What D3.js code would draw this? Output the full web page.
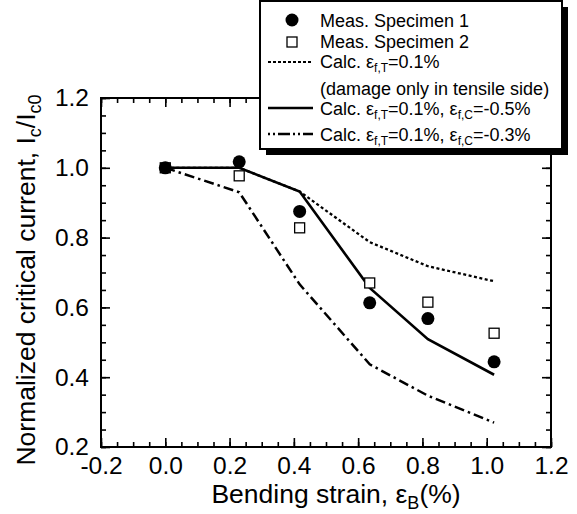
<!DOCTYPE html>
<html><head><meta charset="utf-8">
<script src="https://cdn.jsdelivr.net/npm/d3@7"></script>
<style>body{margin:0;background:#fff} text{font-family:"Liberation Sans",Arial,sans-serif;fill:#000}</style>
</head><body><svg id="c" width="577" height="514"></svg>
<script>
const strain = [0, 0.23, 0.418, 0.636, 0.817, 1.023];
const spec1 = [1.0, 1.017, 0.875, 0.613, 0.568, 0.444];
const spec2 = [1.0, 0.977, 0.828, 0.670, 0.615, 0.526];
const calcTensile = [1.0, 1.0, 0.932, 0.787, 0.718, 0.675];
const calcC05 = [1.0, 1.0, 0.932, 0.656, 0.509, 0.407];
const calcC03 = [1.0, 0.93, 0.666, 0.437, 0.347, 0.27];
const xTicks = [-0.2, 0.0, 0.2, 0.4, 0.6, 0.8, 1.0, 1.2];
const yTicks = [0.2, 0.4, 0.6, 0.8, 1.0, 1.2];
const xMinor = d3.range(-0.2, 1.2001, 0.05);
const yMinor = d3.range(0.2, 1.2001, 0.05);

const svg = d3.select("#c");
const L = 101, R = 551, T = 98, B = 447;
const x = d3.scaleLinear().domain([-0.2, 1.2]).range([L, R]);
const y = d3.scaleLinear().domain([0.2, 1.2]).range([B, T]);

function axisGroup(axis, tr){ return svg.append("g").attr("transform", tr).call(axis); }
const fmt = d => d3.format(".1f")(d).replace("−", "-");
const ax = [
  axisGroup(d3.axisBottom(x).tickValues(xMinor).tickSize(-5).tickFormat(""), `translate(0,${B})`),
  axisGroup(d3.axisTop(x).tickValues(xMinor).tickSize(-5).tickFormat(""), `translate(0,${T})`),
  axisGroup(d3.axisLeft(y).tickValues(yMinor).tickSize(-5).tickFormat(""), `translate(${L},0)`),
  axisGroup(d3.axisRight(y).tickValues(yMinor).tickSize(-5).tickFormat(""), `translate(${R},0)`),
  axisGroup(d3.axisBottom(x).tickValues(xTicks).tickSize(-9).tickPadding(10).tickFormat(fmt), `translate(0,${B})`),
  axisGroup(d3.axisTop(x).tickValues(xTicks).tickSize(-9).tickFormat(""), `translate(0,${T})`),
  axisGroup(d3.axisLeft(y).tickValues(yTicks).tickSize(-9).tickPadding(12).tickFormat(fmt), `translate(${L},0)`),
  axisGroup(d3.axisRight(y).tickValues(yTicks).tickSize(-9).tickFormat(""), `translate(${R},0)`)
];
ax.forEach(g => {
  g.select(".domain").remove();
  g.selectAll(".tick line").attr("stroke", "#000").attr("stroke-width", 1.6);
  g.selectAll(".tick text").attr("font-size", 24.5).attr("font-family", "Liberation Sans, Arial, sans-serif").attr("fill", "#000");
});
svg.append("rect").attr("x", L).attr("y", T).attr("width", R - L).attr("height", B - T)
  .attr("fill", "none").attr("stroke", "#000").attr("stroke-width", 2);

// lines
const line = d3.line().x((d, i) => x(strain[i])).y(d => y(d));
svg.append("path").datum(calcTensile).attr("d", line).attr("fill", "none").attr("stroke", "#000")
  .attr("stroke-width", 2.3).attr("stroke-dasharray", "3,2.5");
svg.append("path").datum(calcC03).attr("d", line).attr("fill", "none").attr("stroke", "#000")
  .attr("stroke-width", 2.5).attr("stroke-dasharray", "10,4,2.5,4");
svg.append("path").datum(calcC05).attr("d", line).attr("fill", "none").attr("stroke", "#000")
  .attr("stroke-width", 2.6);

// points
svg.selectAll(".sq").data(spec2).enter().append("rect")
  .attr("x", (d, i) => x(strain[i]) - 5).attr("y", d => y(d) - 5)
  .attr("width", 10).attr("height", 10).attr("fill", "#fff").attr("stroke", "#000").attr("stroke-width", 1.3);
svg.selectAll(".ci").data(spec1).enter().append("circle")
  .attr("cx", (d, i) => x(strain[i])).attr("cy", d => y(d)).attr("r", 6.5).attr("fill", "#000");

// axis titles
svg.append("text").attr("x", 336).attr("y", 503).attr("text-anchor", "middle").attr("font-size", 26.5)
  .html('Bending strain, ε<tspan font-size="18" dy="6">B</tspan><tspan dy="-6">(%)</tspan>');
svg.append("text").attr("transform", "translate(35,280) rotate(-90)").attr("text-anchor", "middle").attr("font-size", 26.5)
  .html('Normalized critical current, I<tspan font-size="18" dy="6">c</tspan><tspan dy="-6">/I</tspan><tspan font-size="18" dy="6">c0</tspan>');

// legend
const lg = svg.append("g");
lg.append("rect").attr("x", 266).attr("y", 7).attr("width", 302).attr("height", 148).attr("fill", "#000");
lg.append("rect").attr("x", 260).attr("y", 1).attr("width", 302).attr("height", 148).attr("fill", "#fff")
  .attr("stroke", "#000").attr("stroke-width", 2);
lg.append("circle").attr("cx", 292).attr("cy", 20).attr("r", 6.5).attr("fill", "#000");
lg.append("rect").attr("x", 287).attr("y", 37).attr("width", 10).attr("height", 10).attr("fill", "#fff").attr("stroke", "#000").attr("stroke-width", 1.3);
lg.append("line").attr("x1", 268).attr("x2", 313).attr("y1", 62).attr("y2", 62).attr("stroke", "#000").attr("stroke-width", 2).attr("stroke-dasharray", "3,2");
lg.append("line").attr("x1", 268).attr("x2", 313).attr("y1", 108).attr("y2", 108).attr("stroke", "#000").attr("stroke-width", 2.5);
lg.append("line").attr("x1", 268).attr("x2", 313).attr("y1", 134).attr("y2", 134).attr("stroke", "#000").attr("stroke-width", 2.5).attr("stroke-dasharray", "2,3,2,3,12,3");
const legTexts = [
  ["Meas. Specimen 1", 27],
  ["Meas. Specimen 2", 48],
  ['Calc. ε<tspan font-size="12" dy="4">f,T</tspan><tspan dy="-4">=0.1%</tspan>', 68],
  ["(damage only in tensile side)", 95],
  ['Calc. ε<tspan font-size="12" dy="4">f,T</tspan><tspan dy="-4">=0.1%, ε</tspan><tspan font-size="12" dy="4">f,C</tspan><tspan dy="-4">=-0.5%</tspan>', 115],
  ['Calc. ε<tspan font-size="12" dy="4">f,T</tspan><tspan dy="-4">=0.1%, ε</tspan><tspan font-size="12" dy="4">f,C</tspan><tspan dy="-4">=-0.3%</tspan>', 141]
];
legTexts.forEach(t => {
  lg.append("text").attr("x", 320).attr("y", t[1]).attr("font-size", 18).html(t[0]);
});
</script></body></html>
